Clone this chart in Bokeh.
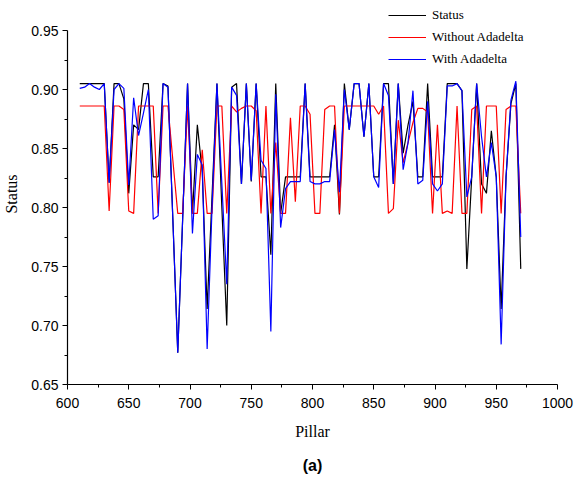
from bokeh.plotting import figure
from bokeh.models import Legend, LegendItem, FixedTicker, Range1d, LinearAxis
from bokeh.embed import file_html
from bokeh.resources import INLINE

# Pillar positions
pillar = [610 + 4 * i for i in range(91)]

status = [0.905, 0.905, 0.905, 0.905, 0.905, 0.905, 0.821, 0.905, 0.905, 0.892,
          0.812, 0.870, 0.866, 0.905, 0.905, 0.826, 0.826, 0.905, 0.903, 0.790,
          0.677, 0.790, 0.905, 0.795, 0.870, 0.830, 0.714, 0.810, 0.905, 0.800,
          0.700, 0.902, 0.905, 0.820, 0.905, 0.822, 0.905, 0.826, 0.826, 0.760,
          0.905, 0.795, 0.826, 0.826, 0.826, 0.826, 0.905, 0.826, 0.826, 0.826,
          0.826, 0.826, 0.870, 0.794, 0.905, 0.866, 0.905, 0.905, 0.860, 0.905,
          0.826, 0.826, 0.905, 0.905, 0.820, 0.905, 0.846, 0.870, 0.890, 0.826,
          0.826, 0.905, 0.826, 0.826, 0.826, 0.905, 0.905, 0.905, 0.899, 0.748,
          0.826, 0.905, 0.820, 0.812, 0.865, 0.826, 0.714, 0.826, 0.888, 0.905,
          0.748]

without_adadelta = [0.886, 0.886, 0.886, 0.886, 0.886, 0.886, 0.797, 0.886, 0.886, 0.883,
                    0.797, 0.795, 0.886, 0.886, 0.886, 0.886, 0.795, 0.886, 0.886, 0.840,
                    0.795, 0.795, 0.886, 0.795, 0.795, 0.849, 0.795, 0.795, 0.886, 0.886,
                    0.795, 0.886, 0.881, 0.884, 0.886, 0.886, 0.882, 0.795, 0.886, 0.795,
                    0.855, 0.795, 0.795, 0.876, 0.805, 0.886, 0.886, 0.879, 0.795, 0.795,
                    0.883, 0.886, 0.886, 0.795, 0.886, 0.886, 0.886, 0.886, 0.886, 0.886,
                    0.886, 0.879, 0.886, 0.795, 0.799, 0.874, 0.838, 0.855, 0.872, 0.884,
                    0.884, 0.881, 0.795, 0.870, 0.795, 0.797, 0.795, 0.886, 0.795, 0.795,
                    0.883, 0.886, 0.795, 0.886, 0.886, 0.886, 0.795, 0.883, 0.886, 0.886,
                    0.795]

with_adadelta = [0.901, 0.902, 0.905, 0.902, 0.900, 0.905, 0.821, 0.900, 0.905, 0.901,
                 0.819, 0.893, 0.861, 0.880, 0.900, 0.790, 0.793, 0.905, 0.902, 0.790,
                 0.677, 0.790, 0.905, 0.778, 0.845, 0.836, 0.680, 0.800, 0.905, 0.820,
                 0.735, 0.902, 0.895, 0.820, 0.905, 0.823, 0.905, 0.840, 0.833, 0.695,
                 0.896, 0.783, 0.816, 0.822, 0.822, 0.822, 0.905, 0.822, 0.820, 0.820,
                 0.822, 0.822, 0.866, 0.813, 0.900, 0.866, 0.905, 0.905, 0.860, 0.905,
                 0.826, 0.817, 0.905, 0.895, 0.820, 0.905, 0.832, 0.855, 0.899, 0.820,
                 0.823, 0.890, 0.820, 0.814, 0.820, 0.903, 0.903, 0.905, 0.899, 0.809,
                 0.826, 0.905, 0.860, 0.826, 0.855, 0.826, 0.684, 0.826, 0.891, 0.907,
                 0.775]

series_names = ["Status", "Without Adadelta", "With Adadelta"]
x_ticks = [600, 650, 700, 750, 800, 850, 900, 950, 1000]
y_ticks = [0.65, 0.70, 0.75, 0.80, 0.85, 0.90, 0.95]

# the frame reaches above 0.95 so that the legend (which sits above the
# axis top) is drawn inside it; the y axis itself stops at 0.95
y_top = 0.95 + 27 / 1180.0

p = figure(width=574, height=486, output_backend="svg", toolbar_location=None,
           x_range=Range1d(600, 1000), y_range=Range1d(0.65, y_top),
           min_border_left=67, min_border_right=17, min_border_top=3,
           min_border_bottom=102)
p.outline_line_color = None
p.xgrid.visible = False
p.ygrid.visible = False

r1 = p.line(pillar, status, line_color="black", line_width=1.2)
r2 = p.line(pillar, without_adadelta, line_color="#ff0000", line_width=1.2)
r3 = p.line(pillar, with_adadelta, line_color="#0000ff", line_width=1.2)

for ax, ticks in ((p.xaxis[0], x_ticks), (p.yaxis[0], y_ticks)):
    step = ticks[1] - ticks[0]
    ax.ticker = FixedTicker(ticks=ticks,
                            minor_ticks=[t + step / 2 for t in ticks[:-1]])
    ax.bounds = (ticks[0], ticks[-1])
    ax.axis_line_color = "black"
    ax.axis_line_width = 1.2
    ax.major_tick_line_color = "black"
    ax.minor_tick_line_color = "black"
    ax.major_tick_out = 5
    ax.major_tick_in = 0
    ax.minor_tick_out = 3
    ax.minor_tick_in = 0
    ax.major_label_text_font = "Liberation Sans"
    ax.major_label_text_font_size = "14px"
    ax.major_label_text_color = "black"
    ax.axis_label_text_font = "Liberation Serif"
    ax.axis_label_text_font_size = "16px"
    ax.axis_label_text_font_style = "normal"
    ax.axis_label_text_color = "black"

p.xaxis[0].axis_label = "Pillar"
p.yaxis[0].axis_label = "Status"
p.xaxis[0].major_label_standoff = 8
p.xaxis[0].axis_label_standoff = 12
p.yaxis[0].major_label_standoff = 4
p.yaxis[0].axis_label_standoff = 8
p.xaxis[0].major_label_overrides = {t: str(t) for t in x_ticks}
p.yaxis[0].major_label_overrides = {t: "%.2f" % t for t in y_ticks}

# caption "(a)" as an extra, tick-less axis below the x axis
cap = LinearAxis(ticker=FixedTicker(ticks=[]), axis_label="(a)",
                 axis_line_color=None, major_tick_line_color=None,
                 minor_tick_line_color=None,
                 axis_label_text_font="Liberation Sans",
                 axis_label_text_font_style="bold",
                 axis_label_text_font_size="16px",
                 axis_label_text_color="black",
                 axis_label_standoff=14)
p.add_layout(cap, "below")

legend = Legend(items=[LegendItem(label=series_names[0], renderers=[r1]),
                       LegendItem(label=series_names[1], renderers=[r2]),
                       LegendItem(label=series_names[2], renderers=[r3])],
                location=(321, 315), orientation="vertical",
                border_line_color=None, background_fill_alpha=0,
                label_text_font="Liberation Serif", label_text_font_size="13px",
                label_text_color="black",
                glyph_width=38, glyph_height=20, label_height=20, spacing=2,
                label_standoff=6, padding=0, margin=0)
p.add_layout(legend, "center")

open("out.html", "w").write(file_html(p, INLINE))
